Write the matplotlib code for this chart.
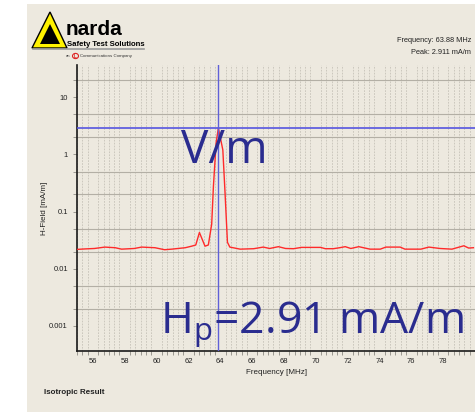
import numpy as np
import matplotlib.pyplot as plt
from matplotlib.patches import Polygon, Rectangle, Circle
from matplotlib.ticker import FixedLocator, NullFormatter

# H-field trace from the isotropic probe
freq_mhz = [54.9, 55.5, 56.1, 56.75, 57.4, 57.8, 58.6, 59.06, 59.9, 60.5, 60.95,
            61.8, 62.2, 62.46, 62.69, 63.04, 63.25, 63.46, 63.57, 63.74, 63.88,
            64.16, 64.3, 64.45, 64.6, 65.25, 66.1, 66.7, 67.1, 67.65, 68.1, 68.6,
            69.1, 69.65, 70.3, 70.6, 71.1, 71.5, 71.85, 72.2, 72.7, 73.4, 74.05,
            74.4, 75.3, 75.6, 76.6, 77.1, 77.8, 78.55, 79.3, 79.6, 79.9]
hfield_ma_m = [0.0217, 0.0222, 0.0226, 0.0239, 0.0233, 0.0220, 0.0226, 0.0239,
               0.0233, 0.0215, 0.0220, 0.0233, 0.0248, 0.0260, 0.043, 0.0248,
               0.026, 0.06, 0.28, 1.6, 2.911, 1.2, 0.21, 0.029, 0.0239, 0.0220,
               0.0224, 0.0239, 0.0226, 0.0243, 0.0226, 0.0224, 0.0236, 0.0236,
               0.0236, 0.0224, 0.0224, 0.0233, 0.0243, 0.0226, 0.0243, 0.0220,
               0.0220, 0.0239, 0.0239, 0.0220, 0.0220, 0.0239, 0.0226, 0.0220,
               0.0252, 0.0230, 0.0233]

marker_freq = 63.88
peak_value = 2.911

x_labels = [56, 58, 60, 62, 64, 66, 68, 70, 72, 74, 76, 78]
y_labels = [10, 1, 0.1, 0.01, 0.001]
y_grid = [0.001, 0.002, 0.005, 0.01, 0.02, 0.05, 0.1, 0.2, 0.5,
          1, 2, 5, 10, 20]

beige = '#EDE9DF'
ink = '#2A2C8F'
small = ['Liberation Sans', 'DejaVu Sans']


def px(x, y):
    return (x / 475, 1 - y / 412)


fig = plt.figure(figsize=(4.75, 4.12), dpi=100)
fig.patch.set_facecolor('white')
fig.patches.append(Rectangle((27 / 475, 0), 1 - 27 / 475, 1 - 4 / 412,
                             transform=fig.transFigure, facecolor=beige,
                             edgecolor='none', zorder=-5))

ax = fig.add_axes([77 / 475, 61 / 412, 1 - 77 / 475, (351 - 65) / 412])
ax.set_zorder(2)
ax.set_facecolor(beige)
ax.set_yscale('log')
ax.set_xlim(55, 80)
ax.set_ylim(10 ** -3.44, 10 ** 1.565)

ax.xaxis.set_major_locator(FixedLocator(x_labels))
ax.xaxis.set_minor_locator(FixedLocator(np.arange(55, 80.01, 1 / 3)))
ax.yaxis.set_major_locator(FixedLocator(y_labels))
ax.yaxis.set_minor_locator(FixedLocator(y_grid))
ax.yaxis.set_minor_formatter(NullFormatter())
ax.set_yticklabels(['10', '1', '0.1', '0.01', '0.001'])

ax.grid(True, which='minor', axis='x', color='#C6C2B8', lw=0.6,
        ls=(0, (2, 1.5)))
ax.grid(True, which='minor', axis='y', color='#B3AFA5', lw=0.8)
ax.tick_params(which='both', colors='#9A978F', length=3, width=0.7,
               labelsize=5.5, labelcolor='#222222')
ax.tick_params(axis='x', which='major', length=0, pad=5)
for lbl in ax.get_xticklabels() + ax.get_yticklabels():
    lbl.set_family(small)

for side in ('top', 'right'):
    ax.spines[side].set_visible(False)
for side in ('left', 'bottom'):
    ax.spines[side].set_color('#1A1A1A')
    ax.spines[side].set_linewidth(1.2)

ax.plot(freq_mhz, hfield_ma_m, color='#FF2A2A', lw=1.0, zorder=3)
ax.axhline(peak_value, color='#5555E0', lw=1.2, zorder=4)
ax.axvline(marker_freq, color='#6060D8', lw=1.0, zorder=4)

ax.set_xlabel('Frequency [MHz]', fontsize=5.8, family=small,
              color='#222222', labelpad=3)
ax.set_ylabel('H-Field [mA/m]', fontsize=5.8, family=small,
              color='#222222', labelpad=1)

# overlay annotations
ax.text(181 / 475, 1 - 163 / 412, 'V/m', transform=fig.transFigure,
        fontsize=33, color=ink, family='Open Sans', zorder=6)
ax.text(160 / 475, 1 - 333 / 412, r'H$_\mathregular{p}$=2.91 mA/m',
        transform=fig.transFigure, fontsize=32, color=ink,
        family='Open Sans', zorder=6)

# header readout
fig.text(471 / 475, 1 - 40 / 412, 'Frequency: 63.88 MHz', ha='right',
         va='center', fontsize=5.3, family=small, color='#222222')
fig.text(471 / 475, 1 - 52 / 412, 'Peak: 2.911 mA/m', ha='right',
         va='center', fontsize=5.3, family=small, color='#222222')
fig.text(44 / 475, 1 - 393 / 412, 'Isotropic Result', ha='left',
         va='center', fontsize=5.8, family=small, weight='bold',
         color='#222222')

# narda logo
fig.patches.append(Polygon([px(50, 12), px(32, 48), px(67, 48)],
                           closed=True, transform=fig.transFigure,
                           facecolor='#FFF200', edgecolor='black', lw=1.0))
fig.patches.append(Polygon([px(50, 24), px(40, 44), px(60, 44)],
                           closed=True, transform=fig.transFigure,
                           facecolor='black', edgecolor='none'))
fig.text(66 / 475, 1 - 35 / 412, 'narda', fontsize=15, weight='bold',
         family=small, color='black', va='baseline')
fig.text(67 / 475, 1 - 46 / 412, 'Safety Test Solutions', fontsize=5.6,
         weight='bold', family=small, color='black', va='baseline')
fig.lines.append(plt.Line2D([33 / 475, 144 / 475], [1 - 48.5 / 412] * 2,
                            transform=fig.transFigure, color='#9A9A9A',
                            lw=1.2))
fig.patches.append(Circle(px(75.5, 56), 3.0 / 475, transform=fig.transFigure,
                          facecolor='none', edgecolor='#DD2222', lw=0.8))
fig.text(66 / 475, 1 - 56 / 412, 'an', fontsize=3.0, family=small,
         color='#333333', va='center')
fig.text(74.2 / 475, 1 - 56 / 412, 'L', fontsize=3.3, family=small,
         color='#DD2222', va='center', weight='bold')
fig.text(80 / 475, 1 - 56 / 412, 'Communications Company', fontsize=3.2,
         family=small, color='#333333', va='center')

fig.savefig('out.png', dpi=100, facecolor=fig.get_facecolor())
